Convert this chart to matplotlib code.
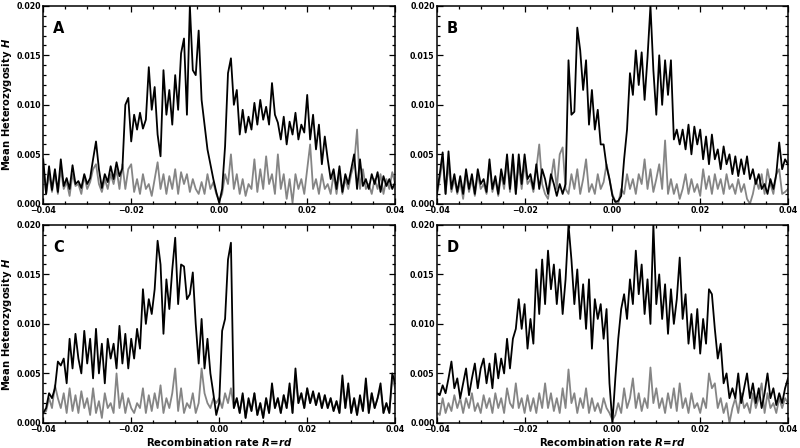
import numpy as np
import matplotlib
matplotlib.use("Agg")
import matplotlib.pyplot as plt
from matplotlib.ticker import MultipleLocator, FuncFormatter

plt.rcParams['font.family'] = ['DejaVu Sans']
plt.rcParams['font.weight'] = 'bold'
plt.rcParams['mathtext.fontset'] = 'custom'
plt.rcParams['mathtext.it'] = 'DejaVu Sans:italic:bold'
plt.rcParams['mathtext.rm'] = 'DejaVu Sans:bold'

# mean heterozygosity, in units of 1e-3, sampled evenly over R = -0.04 .. 0.04
a_black = [4.5, 1.0, 3.8, 1.4, 3.5, 1.2, 4.5, 1.8, 2.6, 1.5,
           3.9, 2.0, 2.3, 1.6, 3.0, 2.0, 2.6, 4.5, 6.3, 3.5,
           1.6, 3.0, 2.2, 3.8, 2.5, 4.2, 2.8, 3.6,
           10.0, 10.7, 6.3, 9.0, 7.5, 9.2, 7.6, 8.5, 13.8, 9.5, 11.8, 7.0,
           4.8, 13.5, 9.0, 11.5, 8.0, 13.0, 9.5, 15.2, 16.7, 9.0,
           20.0, 13.5, 13.0, 17.5, 10.5, 8.0, 5.5, 4.0, 2.5, 1.2,
           0.1, 1.5, 5.8, 13.2, 14.7, 10.0, 11.5, 7.0, 9.5, 7.2,
           8.8, 7.5, 10.2, 8.0, 10.5, 8.5, 9.8, 8.0, 12.2, 9.0,
           8.2, 6.5, 8.8, 6.0, 8.3, 7.0, 9.2, 6.5, 8.0, 7.2,
           11.0, 6.5, 9.0, 5.5, 8.0, 4.0, 6.8, 4.5, 2.5, 3.5,
           1.5, 3.8, 1.2, 3.0, 2.0, 3.5, 5.0, 1.5, 4.5, 1.8,
           2.5, 1.5, 3.0, 2.0, 3.2, 1.2, 2.8, 1.8, 2.5, 1.5, 2.2]
a_gray = [4.0, 1.0, 3.0, 1.2, 3.2, 1.0, 3.5, 1.5, 2.2, 0.8,
          3.0, 1.8, 2.0, 1.0, 2.8, 1.5, 2.2, 3.5, 4.0, 2.0,
          1.2, 2.5, 1.5, 3.0, 2.0, 3.5, 1.5, 4.0, 1.5, 3.5,
          4.0, 1.2, 2.5, 1.0, 3.0, 1.5, 2.0, 0.8, 2.5, 4.2,
          1.5, 3.0, 1.0, 2.8, 1.5, 3.5, 1.0, 3.2, 2.0, 3.0,
          1.2, 2.5, 1.5, 1.0, 2.2, 1.0, 3.0, 1.5, 2.2, 1.0,
          0.3, 1.0, 3.0, 2.0, 5.0, 1.5, 3.0, 1.0, 2.5, 0.8,
          2.0, 1.5, 4.5, 1.2, 3.5, 1.5, 4.8, 2.0, 3.0, 1.0,
          5.0, 1.5, 3.0, 0.5, 2.5, 0.1, 3.0, 1.5, 2.5, 1.0,
          3.5, 6.0, 1.5, 2.5, 1.0, 3.0, 1.5, 2.0, 1.0, 3.0,
          1.0, 3.2, 1.0, 2.5, 1.5, 3.0, 4.0, 7.5, 1.5, 3.5,
          1.5, 2.0, 1.0, 2.5, 1.5, 3.0, 1.0, 2.5, 1.5, 3.2, 2.0]

b_black = [1.0, 3.0, 5.2, 1.0, 5.3, 1.5, 3.0, 1.2, 2.8, 1.0,
           3.5, 1.5, 3.0, 1.0, 3.5, 2.0, 2.5, 1.2, 4.5, 1.5,
           2.8, 1.0, 3.5, 2.0, 5.0, 1.5, 5.0, 1.0, 5.0, 2.0,
           5.0, 2.5, 3.0, 1.5, 4.0, 1.5, 3.5, 2.5, 1.0, 3.0,
           2.0, 0.8, 2.0, 1.0, 2.0, 14.5, 9.0, 9.3, 17.8, 15.5,
           11.5, 14.5, 8.0, 11.5, 7.5, 9.5, 6.0, 6.0, 3.8, 2.5,
           0.8, 0.2, 0.3, 0.8, 4.5, 7.5, 13.2, 11.0, 15.5, 12.0,
           15.3, 10.5, 14.8, 20.0, 13.5, 9.0, 15.0, 10.0, 14.5, 11.0,
           14.5, 6.5, 7.5, 6.0, 7.5, 5.5, 8.0, 5.0, 7.8, 6.0,
           7.5, 4.5, 6.8, 4.0, 7.0, 4.5, 5.5, 3.5, 5.8, 4.0,
           5.0, 3.0, 4.8, 2.8, 4.5, 3.0, 4.8, 2.5, 3.5, 2.0,
           3.0, 1.5, 2.0, 1.0, 2.5, 1.5, 3.0, 6.2, 3.5, 4.5, 4.0]
b_gray = [0.8, 2.5, 4.5, 1.0, 4.0, 1.2, 2.5, 1.0, 2.2, 0.5,
          3.0, 1.2, 2.5, 0.8, 3.0, 1.5, 2.0, 1.0, 4.0, 1.2,
          2.5, 0.8, 3.0, 1.5, 4.5, 1.2, 4.5, 1.0, 4.0, 1.5,
          4.0, 2.0, 2.5, 1.2, 3.5, 6.0, 2.0, 1.0, 0.5, 2.5,
          4.5, 1.5, 5.0, 5.7, 1.5, 1.0, 3.0, 1.5, 3.5, 1.0,
          2.5, 4.5, 1.2, 2.0, 1.0, 3.0, 1.5, 2.2, 4.0, 2.5,
          1.0, 0.2, 0.0, 1.5, 1.0, 3.0, 1.5, 2.5, 1.0, 3.0,
          2.0, 4.5, 1.5, 3.5, 1.2, 2.5, 4.0, 1.5, 6.4, 1.0,
          2.5, 1.0, 2.0, 0.5, 1.5, 3.0, 1.0, 2.5, 1.2, 2.0,
          0.8, 3.5, 1.5, 2.8, 1.0, 3.0, 1.5, 2.5, 1.0, 3.0,
          1.5, 2.0, 1.0, 2.5, 1.2, 2.0, 0.5, 0.0, 1.0, 2.5,
          1.5, 3.0, 1.0, 3.5, 2.0, 1.0, 3.0, 3.5, 1.0, 1.2, 1.5]

c_black = [1.0, 1.5, 3.0, 2.5, 3.5, 6.2, 5.8, 6.5, 4.0, 8.5,
           5.5, 9.0, 6.5, 5.0, 9.3, 6.0, 8.5, 4.5, 9.5, 5.0,
           8.0, 4.0, 8.5, 6.5, 8.0, 5.5, 9.8, 6.0, 9.0, 5.5,
           8.5, 6.5, 9.5, 7.5, 13.5, 10.0, 12.5, 11.0, 13.5, 18.4,
           16.0, 9.0, 14.5, 11.5, 15.5, 18.7, 12.0, 16.0, 15.8, 12.5,
           13.0, 15.2, 10.0, 6.0, 10.5, 5.5, 8.5, 5.0, 3.0, 0.8,
           2.0, 9.3, 10.5, 16.5, 18.2, 1.5, 2.5, 1.0, 3.0, 0.5,
           2.5, 1.2, 3.0, 0.8, 2.0, 0.5, 2.5, 1.0, 4.0, 1.5,
           2.5, 1.0, 2.8, 1.5, 4.0, 1.0, 5.5, 2.0, 3.0, 1.5,
           3.5, 2.0, 3.2, 1.8, 3.0, 1.5, 2.8, 1.5, 2.5, 1.2,
           2.2, 1.0, 4.8, 1.5, 4.0, 1.0, 2.5, 0.8, 2.8, 1.2,
           4.5, 1.0, 3.0, 1.5, 2.5, 4.0, 1.0, 2.0, 1.0, 5.0, 4.0]
c_gray = [1.0, 1.2, 2.5, 1.5, 3.8, 2.5, 1.5, 3.0, 1.0, 3.5,
          1.2, 2.8, 1.0, 3.2, 1.5, 2.5, 0.8, 3.5, 1.0, 2.2,
          0.5, 3.0, 1.5, 2.0, 1.0, 5.0, 1.5, 3.0, 1.0, 2.5,
          1.5, 1.0, 2.0, 1.5, 3.5, 1.0, 2.8, 1.2, 3.0, 1.5,
          3.8, 1.0, 2.5, 1.5, 3.0, 5.5, 1.2, 3.5, 1.0, 2.0,
          1.5, 3.0, 1.0, 2.0, 5.5, 3.0, 2.0, 1.5, 2.5, 2.0,
          2.5, 1.5, 3.0, 2.0, 3.5, 1.5, 2.5, 1.0, 2.8, 0.5,
          2.2, 1.2, 3.0, 0.8, 2.0, 0.5, 2.5, 1.0, 3.5, 1.5,
          2.5, 1.0, 2.8, 1.5, 3.5, 1.0, 4.5, 2.0, 3.0, 1.5,
          3.5, 2.0, 3.0, 1.8, 3.0, 1.5, 2.8, 1.5, 2.5, 1.2,
          2.2, 1.0, 4.0, 1.5, 3.5, 1.0, 2.5, 0.8, 2.5, 1.2,
          4.0, 1.0, 3.0, 1.5, 2.5, 3.5, 1.0, 2.0, 1.0, 4.5, 3.5]

d_black = [3.0, 2.8, 3.8, 3.0, 4.5, 6.2, 3.5, 4.5, 2.5, 4.0,
           5.5, 2.8, 4.5, 6.0, 3.5, 5.5, 6.5, 4.0, 6.0, 3.5,
           7.0, 4.5, 6.5, 5.0, 8.5, 5.5, 8.5, 9.5, 12.5, 9.5,
           12.0, 7.5, 10.5, 8.0, 15.5, 11.0, 16.5, 12.0, 17.4, 13.5,
           16.0, 12.0, 15.5, 11.0, 14.5, 20.0, 16.5, 12.0, 15.5, 10.5,
           14.0, 9.5, 14.5, 7.5, 12.5, 10.5, 12.0, 8.5, 11.5, 4.0,
           0.0, 4.5, 8.5, 11.5, 13.0, 10.5, 14.5, 12.0, 17.4, 13.0,
           16.0, 11.0, 14.5, 10.0, 20.0, 12.0, 15.0, 10.5, 14.0, 9.0,
           13.5, 10.0, 12.5, 16.7, 10.5, 13.0, 8.0, 11.0, 7.5, 11.5,
           7.0, 10.5, 8.0, 13.5, 13.0, 9.5, 6.5, 8.0, 4.0, 5.0,
           2.5, 3.5, 2.5, 5.0, 2.0, 3.5, 5.0, 2.5, 4.0, 2.0,
           3.5, 1.5, 3.0, 5.0, 2.5, 3.5, 1.8, 3.0, 2.0, 3.5, 4.5]
d_gray = [1.0, 0.8, 2.5, 1.0, 2.0, 1.2, 2.8, 1.5, 2.5, 1.0,
          2.5, 1.5, 3.0, 1.2, 2.0, 1.0, 2.8, 1.5, 2.5, 1.0,
          3.0, 1.5, 2.5, 1.0, 3.5, 2.0, 1.5, 4.0, 1.5, 2.5,
          1.0, 2.8, 1.2, 2.5, 1.0, 3.0, 1.5, 4.0, 1.5, 3.0,
          1.2, 2.5, 1.0, 3.5, 1.5, 5.4, 2.0, 3.0, 1.0, 2.5,
          1.5, 3.5, 1.0, 2.5, 1.2, 2.0, 1.0, 2.5, 1.5, 1.0,
          0.3, 0.8, 2.0, 1.0, 3.5, 1.5, 2.5, 4.5, 1.5, 3.0,
          1.2, 2.5, 1.5, 5.6, 2.0, 3.5, 1.5, 2.5, 1.0, 3.0,
          1.5, 3.5, 1.2, 4.0, 1.5, 2.5, 1.0, 3.0, 1.5, 2.0,
          1.0, 2.5, 1.5, 5.0, 3.5, 4.0, 1.5, 2.5, 1.0, 2.0,
          0.0, 1.5, 2.5, 1.0, 3.0, 1.5, 2.0, 1.0, 3.0, 1.5,
          2.5, 4.0, 1.0, 3.0, 1.5, 2.0, 1.0, 2.5, 1.5, 2.5, 2.0]

panels = [("A", a_black, a_gray), ("B", b_black, b_gray),
          ("C", c_black, c_gray), ("D", d_black, d_gray)]

# axes boxes [left, bottom, width, height] in figure fraction
boxes = [[0.054, 0.545, 0.440, 0.442], [0.546, 0.545, 0.439, 0.442],
         [0.054, 0.056, 0.440, 0.442], [0.546, 0.056, 0.439, 0.442]]

def fmt(v, dec):
    s = "%.*f" % (dec, v)
    if s.startswith("-"):
        s = "\u2212" + s[1:]
    return s

fig = plt.figure(figsize=(8, 4.48), dpi=100)
for k, (name, blk, gry) in enumerate(panels):
    ax = fig.add_axes(boxes[k])
    xg = np.linspace(-0.04, 0.04, len(gry))
    xb = np.linspace(-0.04, 0.04, len(blk))
    ax.plot(xg, np.array(gry) * 1e-3, color="#858585", lw=1.3)
    ax.plot(xb, np.array(blk) * 1e-3, color="black", lw=1.3)
    ax.set_xlim(-0.04, 0.04)
    ax.set_ylim(0, 0.02)
    ax.xaxis.set_major_locator(MultipleLocator(0.02))
    ax.xaxis.set_minor_locator(MultipleLocator(0.005))
    ax.yaxis.set_major_locator(MultipleLocator(0.005))
    ax.yaxis.set_minor_locator(MultipleLocator(0.001))
    ax.xaxis.set_major_formatter(FuncFormatter(lambda v, p: fmt(v, 2)))
    ax.yaxis.set_major_formatter(FuncFormatter(lambda v, p: fmt(v, 3)))
    ax.tick_params(which="both", direction="in", top=True, right=True,
                   labelsize=5.7, pad=1.5, width=0.9)
    ax.tick_params(which="major", length=4)
    ax.tick_params(which="minor", length=2)
    for lab in ax.get_xticklabels() + ax.get_yticklabels():
        lab.set_fontweight("bold")
    for sp in ax.spines.values():
        sp.set_linewidth(1.1)
    ax.text(0.028, 0.885, name, transform=ax.transAxes, fontsize=10.5,
            fontweight="bold", va="center", ha="left")
    if k in (0, 2):
        ax.set_ylabel("Mean Heterozygosity $H$", fontsize=7.2,
                      fontweight="bold", labelpad=2)
    if k in (2, 3):
        ax.set_xlabel("Recombination rate $R$=$rd$", fontsize=7.3,
                      fontweight="bold", labelpad=1.5)

fig.savefig("out.png", dpi=100)
